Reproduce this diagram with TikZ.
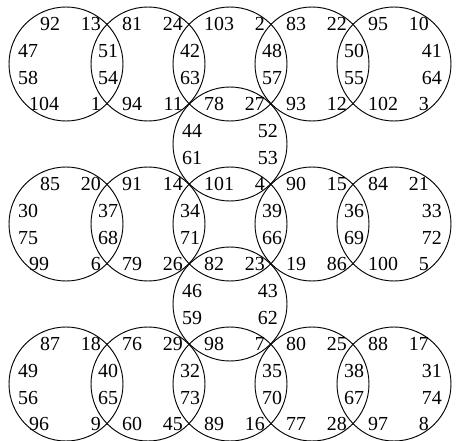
\documentclass[tikz,border=0pt]{standalone}
\usepackage{fontspec}
\setmainfont{Liberation Serif}
\usepackage{tikz}

% numbers at the crossings above and below each circle of a row
% #1 = y of the row, #2 = k/top-left/top-right/bottom-left/bottom-right
\newcommand\rownums[2]{%
  \foreach \ka/\ntl/\ntr/\nbl/\nbr in {#2}{
    \pgfmathsetmacro\cx{66+(\ka-1)*82}
    \pgfmathsetmacro\blx{\ka==1 ? \cx-37 : \cx-26}
    \node[anchor=west] (n\ntl) at (\cx-26,#1-40) {\ntl};
    \node[anchor=east] (n\ntr) at (\cx+35,#1-40) {\ntr};
    \node[anchor=west] (n\nbl) at (\blx,#1+40) {\nbl};
    \node[anchor=east] (n\nbr) at (\cx+35,#1+40) {\nbr};
  }}
% numbers in the lens between circle k and k+1
\newcommand\lensnums[2]{%
  \foreach \ka/\nup/\ndn in {#2}{
    \pgfmathsetmacro\lx{66+(\ka-1)*82+42}
    \node (n\nup) at (\lx,#1-13) {\nup};
    \node (n\ndn) at (\lx,#1+14) {\ndn};
  }}

\begin{document}
\begin{tikzpicture}[x=0.3mm,y=-0.3mm,
  every node/.style={font=\fontsize{17}{19}\selectfont, inner sep=0pt},
  ring/.style={draw, circle, line width=0.8pt, minimum size=34.2mm}]
\useasboundingbox (0,0) rectangle (464,441);

% circles: three rows of five, two between them in the middle column
\foreach \r/\y in {1/64,2/224,3/384}
  \foreach \ka in {1,...,5}
    \node[ring] (c\r\ka) at ({66+(\ka-1)*82},\y) {};
\node[ring] (m1) at (230,144) {};
\node[ring] (m2) at (230,304) {};

% row 1
\rownums{64}{1/92/13/104/1, 2/81/24/94/11, 3/103/2/78/27, 4/83/22/93/12, 5/95/10/102/3}
\lensnums{64}{1/51/54, 2/42/63, 3/48/57, 4/50/55}
% row 2
\rownums{224}{1/85/20/99/6, 2/91/14/79/26, 3/101/4/82/23, 4/90/15/19/86, 5/84/21/100/5}
\lensnums{224}{1/37/68, 2/34/71, 3/39/66, 4/36/69}
% row 3
\rownums{384}{1/87/18/96/9, 2/76/29/60/45, 3/98/7/89/16, 4/80/25/77/28, 5/88/17/97/8}
\lensnums{384}{1/40/65, 2/32/73, 3/35/70, 4/38/67}

% outer sides of the end circles and of the middle ones
\foreach \cx/\cy/\nup/\ndn/\off/\side in {66/64/47/58/-48/west, 394/64/41/64/48/east,
    230/144/44/61/-48/west, 230/144/52/53/48/east,
    66/224/30/75/-48/west, 394/224/33/72/48/east,
    230/304/46/59/-48/west, 230/304/43/62/48/east,
    66/384/49/56/-48/west, 394/384/31/74/48/east}{
  \node[anchor=\side] (n\nup) at (\cx+\off,\cy-13) {\nup};
  \node[anchor=\side] (n\ndn) at (\cx+\off,\cy+14) {\ndn};
}
\end{tikzpicture}
\end{document}
